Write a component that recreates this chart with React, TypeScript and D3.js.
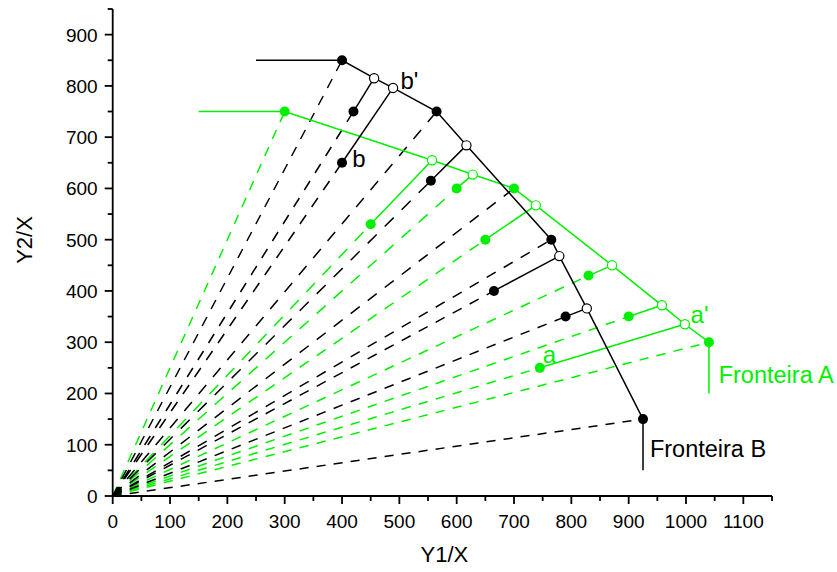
import React from 'react';
import * as d3 from 'd3';

const W = 837;
const H = 572;
const GREEN = '#00f000';
const BLACK = '#000000';
const FONT = '"Liberation Sans", Arial, sans-serif';

// Axis ticks
const xMajorTicks = [0, 100, 200, 300, 400, 500, 600, 700, 800, 900, 1000, 1100];
const xMinorTicks = [50, 150, 250, 350, 450, 550, 650, 750, 850, 950, 1050, 1150];
const yMajorTicks = [0, 100, 200, 300, 400, 500, 600, 700, 800, 900];
const yMinorTicks = [50, 150, 250, 350, 450, 550, 650, 750, 850, 950];

// Frontier B (black): piecewise-linear production frontier
const frontierB: [number, number][] = [
  [250, 850], [400, 850], [456, 815], [489, 796], [565, 750],
  [617, 684], [765, 500], [779, 468], [827, 366], [925, 150], [925, 50],
];
const frontierBVertices: [number, number][] = [[400, 850], [565, 750], [765, 500], [925, 150]];
const frontierBProjections: [number, number][] = [[456, 815], [489, 796], [617, 684], [779, 468], [827, 366]];
const unitsB: [number, number][] = [[420, 750], [400, 650], [555, 615], [665, 400], [790, 350]];
// rays from origin drawn in black
const raysB: [number, number][] = [
  [400, 850], [420, 750], [400, 650], [565, 750], [555, 615],
  [700, 600], [765, 500], [665, 400], [790, 350], [925, 150],
];

// Frontier A (green)
const frontierA: [number, number][] = [
  [150, 750], [300, 750], [557, 655], [628, 627], [700, 600],
  [738, 567], [871, 450], [958, 372], [998, 335], [1040, 300], [1040, 200],
];
const frontierAVertices: [number, number][] = [[300, 750], [700, 600], [1040, 300]];
const frontierAProjections: [number, number][] = [[557, 655], [628, 627], [738, 567], [871, 450], [958, 372], [998, 335]];
const unitsA: [number, number][] = [[450, 530], [600, 600], [650, 500], [830, 430], [900, 350], [745, 250]];
// rays from origin drawn in green
const raysA: [number, number][] = [
  [300, 750], [450, 530], [600, 600], [650, 500],
  [830, 430], [900, 350], [745, 250], [1040, 300],
];

// Text annotations: [label, x, y, colour, font size]
const labels: [string, number, number, string, number][] = [
  ["b'", 502, 793, BLACK, 24],
  ['b', 418, 642, BLACK, 24],
  ["a'", 1008, 338, GREEN, 24],
  ['a', 750, 259, GREEN, 24],
  ['Fronteira A', 1057, 220, GREEN, 23.5],
  ['Fronteira B', 937, 77, BLACK, 23.5],
];

const x = d3.scaleLinear().domain([0, 1150]).range([112.7, 772]);
const y = d3.scaleLinear().domain([0, 950]).range([496, 9]);
const line = d3.line<[number, number]>().x((d) => x(d[0])).y((d) => y(d[1]));

// Dash lengths are counted along the dominant axis, so the pattern is
// stretched by the ratio of true length to major-axis length.
function rayDash(p: [number, number]) {
  const dx = x(p[0]) - x(0);
  const dy = y(p[1]) - y(0);
  const L = Math.hypot(dx, dy);
  const m = Math.max(Math.abs(dx), Math.abs(dy));
  const k = L / m;
  return `${(9 * k).toFixed(2)} ${(8 * k).toFixed(2)}`;
}

function Rays({ pts, color }: { pts: [number, number][]; color: string }) {
  return (
    <g>
      {pts.map((p, i) => (
        <path
          key={i}
          d={line([[0, 0], p]) || ''}
          fill="none"
          stroke={color}
          strokeWidth={1.5}
          strokeDasharray={rayDash(p)}
        />
      ))}
    </g>
  );
}

function Segments({ from, to, color }: { from: [number, number][]; to: [number, number][]; color: string }) {
  return (
    <g>
      {from.map((p, i) => (
        <path key={i} d={line([p, to[i]]) || ''} fill="none" stroke={color} strokeWidth={1.5} />
      ))}
    </g>
  );
}

function Dots({ pts, color, open }: { pts: [number, number][]; color: string; open?: boolean }) {
  return (
    <g>
      {pts.map((p, i) => (
        <circle
          key={i}
          cx={x(p[0])}
          cy={y(p[1])}
          r={open ? 4.6 : 5}
          fill={open ? '#ffffff' : color}
          stroke={color}
          strokeWidth={open ? 1.2 : 0}
        />
      ))}
    </g>
  );
}

export default function App() {
  return (
    <svg
      width={W}
      height={H}
      viewBox={`0 0 ${W} ${H}`}
      style={{ position: 'absolute', left: 0, top: 0, background: '#ffffff' }}
      fontFamily={FONT}
    >
      <rect width={W} height={H} fill="#ffffff" />

      {/* dashed rays from the origin */}
      <Rays pts={raysA} color={GREEN} />
      <Rays pts={raysB} color={BLACK} />

      {/* frontier A */}
      <path d={line(frontierA) || ''} fill="none" stroke={GREEN} strokeWidth={1.5} />
      <Segments from={unitsA} to={frontierAProjections} color={GREEN} />
      <Dots pts={unitsA} color={GREEN} />
      <Dots pts={frontierAVertices} color={GREEN} />
      <Dots pts={frontierAProjections} color={GREEN} open />

      {/* frontier B */}
      <path d={line(frontierB) || ''} fill="none" stroke={BLACK} strokeWidth={1.5} />
      <Segments from={unitsB} to={frontierBProjections} color={BLACK} />
      <Dots pts={unitsB} color={BLACK} />
      <Dots pts={frontierBVertices} color={BLACK} />
      <Dots pts={frontierBProjections} color={BLACK} open />

      {/* annotations */}
      {labels.map(([t, lx, ly, c, fs], i) => (
        <text key={i} x={x(lx)} y={y(ly)} fill={c} fontSize={fs}>
          {t}
        </text>
      ))}

      {/* axes */}
      <g stroke={BLACK} strokeWidth={1.8} fill="none">
        <line x1={x(0)} x2={x(1150)} y1={y(0)} y2={y(0)} />
        <line x1={x(0)} x2={x(0)} y1={y(0)} y2={y(950)} />
        {xMajorTicks.map((t) => (
          <line key={'xM' + t} x1={x(t)} x2={x(t)} y1={y(0)} y2={y(0) + 8} />
        ))}
        {xMinorTicks.map((t) => (
          <line key={'xm' + t} x1={x(t)} x2={x(t)} y1={y(0)} y2={y(0) + 5} />
        ))}
        {yMajorTicks.map((t) => (
          <line key={'yM' + t} x1={x(0) - 8} x2={x(0)} y1={y(t)} y2={y(t)} />
        ))}
        {yMinorTicks.map((t) => (
          <line key={'ym' + t} x1={x(0) - 5} x2={x(0)} y1={y(t)} y2={y(t)} />
        ))}
      </g>
      <g fontSize={19} fill={BLACK}>
        {xMajorTicks.map((t) => (
          <text key={'xl' + t} x={x(t)} y={y(0) + 32} textAnchor="middle">
            {t}
          </text>
        ))}
        {yMajorTicks.map((t) => (
          <text key={'yl' + t} x={x(0) - 15} y={y(t) + 7} textAnchor="end">
            {t}
          </text>
        ))}
      </g>
      <text x={(x(0) + x(1150)) / 2 + 2} y={562} textAnchor="middle" fontSize={22} fill={BLACK}>
        Y1/X
      </text>
      <text
        transform={`translate(32, 240) rotate(-90)`}
        textAnchor="middle"
        fontSize={22}
        fill={BLACK}
      >
        Y2/X
      </text>
    </svg>
  );
}
